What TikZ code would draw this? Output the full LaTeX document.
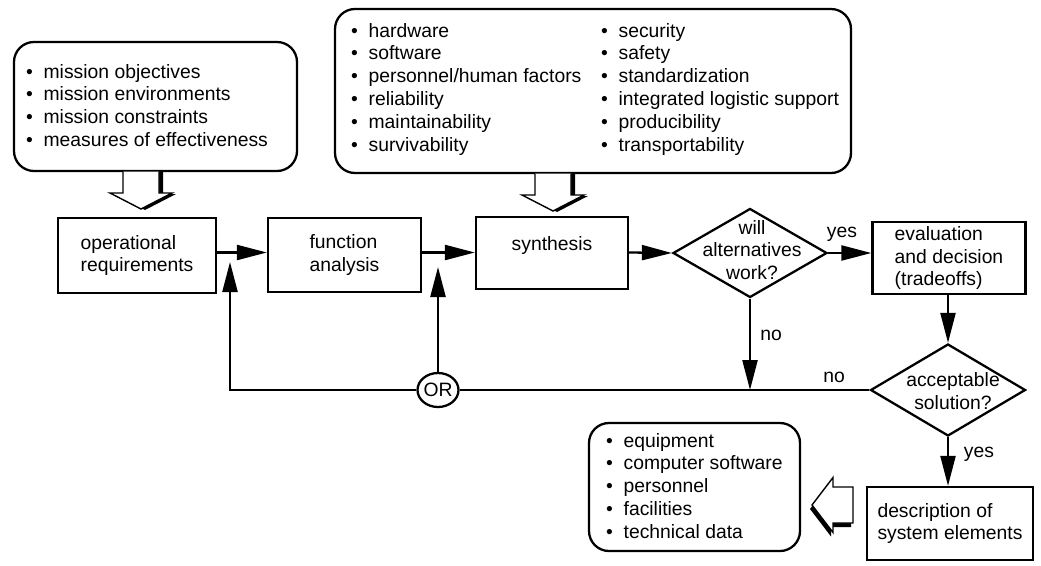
\documentclass[tikz,border=0pt]{standalone}
\usepackage{fontspec}
\setmainfont{Liberation Sans}
\usetikzlibrary{arrows.meta,shapes.geometric}

\newcommand{\itm}{\strut\makebox[3.5mm][l]{\textbullet}}

% hollow block arrow pointing down, #1 = top middle of the shaft
\newcommand{\downblock}[1]{%
  \begin{scope}[shift={#1}]
    \fill[black] (-14,1) -- (-14,23) -- (-27,23) -- (4,39) -- (35,23) -- (22,23) -- (22,1) -- cycle;
    \filldraw[fill=white,line width=0.8pt] (-18,0.5) -- (-18,22) -- (-31,22) -- (0,38) -- (31,22) -- (18,22) -- (18,0.5);
  \end{scope}}
% hollow block arrow pointing left, #1 = right middle of the shaft
\newcommand{\leftblock}[1]{%
  \begin{scope}[shift={#1}]
    \fill[black] (-2,-14) -- (-22,-14) -- (-22,-23.5) -- (-43,4) -- (-22,31.5) -- (-22,22) -- (-2,22) -- cycle;
    \filldraw[fill=white,line width=0.8pt] (0,-18) -- (-20,-18) -- (-20,-27.5) -- (-41,0) -- (-20,27.5) -- (-20,18) -- (0,18) -- cycle;
  \end{scope}}

\begin{document}
\begin{tikzpicture}[x=0.2mm,y=-0.2mm,line width=1.3pt,
  font=\fontsize{11pt}{13pt}\selectfont,
  flow/.style={-{Triangle[length=6mm,width=3mm]}},
  procbox/.style={draw,align=left,inner sep=0pt},
  listbox/.style={draw,rounded corners=4mm},
  listtext/.style={anchor=north west,align=left,inner sep=0pt},
  decision/.style={draw,diamond,inner sep=0pt}]

\useasboundingbox (0,0) rectangle (1041,565);

% lists of inputs
\node[listbox,minimum width=56.6mm,minimum height=25.8mm] (mission) at (155.5,106.5) {};
\node[listtext] (missiontext) at (25,61) {\itm mission objectives\\ \itm mission environments\\
  \itm mission constraints\\ \itm measures of effectiveness};
\node[listbox,minimum width=103.2mm,minimum height=32.8mm] (design) at (593,91) {};
\node[listtext] (designleft) at (350,20) {\itm hardware\\ \itm software\\ \itm personnel/human factors\\
  \itm reliability\\ \itm maintainability\\ \itm survivability};
\node[listtext] (designright) at (600,20) {\itm security\\ \itm safety\\ \itm standardization\\
  \itm integrated logistic support\\ \itm producibility\\ \itm transportability};

% main flow
\node[procbox,minimum width=31.6mm,minimum height=15mm] (opreq) at (137,255.5) {operational\\requirements};
\node[procbox,minimum width=30.6mm,minimum height=14.8mm] (funcan) at (344.5,255) {function\\analysis\hspace{2.8mm}};
\node[procbox,minimum width=30.4mm,minimum height=14.4mm,text height=2.8mm,text depth=4mm] (synth) at (552,253) {synthesis};
\node[decision,minimum width=30.8mm,minimum height=17.8mm] (willwork) at (750,253) {};
\node[align=center] (willtext) at (752,250) {will\\alternatives\\work?};
\node[procbox,minimum width=30.6mm,minimum height=14.4mm] (evaldec) at (949,258) {evaluation\\and decision\\(tradeoffs)};
\node[decision,minimum width=31mm,minimum height=18.4mm] (accept) at (948,390) {};
\node[align=center] (accepttext) at (953,391) {acceptable\\solution?};
\node[procbox,minimum width=33.2mm,minimum height=14.6mm] (sysdesc) at (950,523.5) {description of\\system elements};
\node[draw,ellipse,minimum width=8mm,minimum height=6.8mm,inner sep=0pt] (orgate) at (438,390) {OR};

% output list
\node[listbox,minimum width=42.2mm,minimum height=25.6mm] (elements) at (694.5,487) {};
\node[listtext] (elementstext) at (605,430) {\itm equipment\\ \itm computer software\\ \itm personnel\\
  \itm facilities\\ \itm technical data};

\node[anchor=base] (yesA) at (842,237) {yes};
\node[anchor=base] (noA) at (771,340) {no};
\node[anchor=base] (noB) at (834,382) {no};
\node[anchor=base] (yesB) at (979,457) {yes};

\coordinate (row) at (0,252.5);
\coordinate (fbA) at (230,262);
\coordinate (fbB) at (438,267);

\draw[flow] (opreq.east |- row) -- (funcan.west |- row);
\draw[flow] (funcan.east |- row) -- (synth.west |- row);
\draw[flow] (synth.east |- row) -- (willwork.west);
\draw[flow] (willwork.east) -- (evaldec.west |- willwork.east);
\draw[flow] (evaldec.south -| accept.north) -- (accept.north);
\draw[flow] (willwork.south) -- (willwork.south |- accept.west);
\draw[flow] (accept.south) -- (accept.south |- sysdesc.north);
% feedback
\draw (accept.west) -- (orgate.east);
\draw[flow] (orgate.west) -| (fbA);
\draw[flow] (orgate.north) -- (fbB);

% block arrows
\downblock{(141,171)}
\downblock{(553,173)}
\leftblock{(853,505)}
\end{tikzpicture}
\end{document}
